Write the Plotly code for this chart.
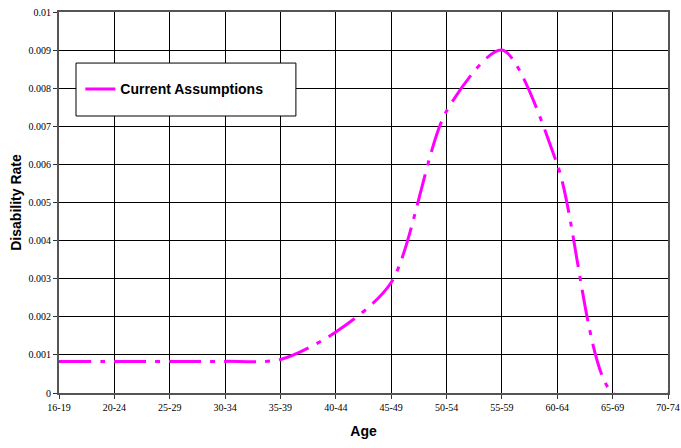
import plotly.graph_objects as go

age_groups = ["16-19", "20-24", "25-29", "30-34", "35-39", "40-44",
              "45-49", "50-54", "55-59", "60-64", "65-69", "70-74"]
current_assumptions = [0.00083, 0.00083, 0.00083, 0.00083, 0.00088, 0.0016,
                       0.0029, 0.0074, 0.0090, 0.0060, 0.0, 0.0]
y_ticks = [0, 0.001, 0.002, 0.003, 0.004, 0.005, 0.006, 0.007, 0.008, 0.009, 0.01]
y_tick_text = ["0", "0.001", "0.002", "0.003", "0.004", "0.005", "0.006",
               "0.007", "0.008", "0.009", "0.01"]

fig = go.Figure()
fig.add_trace(go.Scatter(
    x=age_groups, y=current_assumptions, mode="lines",
    name="Current Assumptions",
    line=dict(color="#FF00FF", width=3, shape="spline", smoothing=0.8,
              dash="32px,9px,5px,9px"),
))

tick_font = dict(family="Liberation Serif, Times New Roman, serif", size=10, color="#000")
title_font = dict(family="Liberation Sans, Arial, sans-serif", size=14, color="#000")

fig.update_layout(
    width=681, height=448,
    margin=dict(l=59, r=13, t=12, b=55),
    paper_bgcolor="white", plot_bgcolor="white",
    showlegend=True,
    legend=dict(x=0.035, y=0.797, xanchor="left", yanchor="middle",
                bgcolor="rgba(0,0,0,0)", borderwidth=0,
                font=dict(family="Liberation Sans, Arial, sans-serif", size=14,
                          color="#000", weight="bold")),
    xaxis=dict(type="category", range=[0, 11], tickfont=tick_font, automargin=False,
               showgrid=True, gridcolor="#000", gridwidth=1,
               showline=True, linecolor="#555", linewidth=2, mirror=True,
               ticks="outside", ticklen=4, tickcolor="#333",
               title=dict(text="<b>Age</b>", font=title_font, standoff=14)),
    yaxis=dict(range=[0, 0.01], tickvals=y_ticks, ticktext=y_tick_text,
               tickfont=tick_font, automargin=False,
               showgrid=True, gridcolor="#000", gridwidth=1,
               showline=True, linecolor="#555", linewidth=2, mirror=True,
               ticks="outside", ticklen=4, tickcolor="#333", zeroline=False,
               title=dict(text="<b>Disability Rate</b>", font=title_font, standoff=4)),
    shapes=[dict(type="rect", xref="paper", yref="paper",
                 x0=0.0279, x1=0.389, y0=0.727, y1=0.866,
                 fillcolor="white", line=dict(color="#000", width=1), layer="above")],
)

fig.write_html("out.html")
